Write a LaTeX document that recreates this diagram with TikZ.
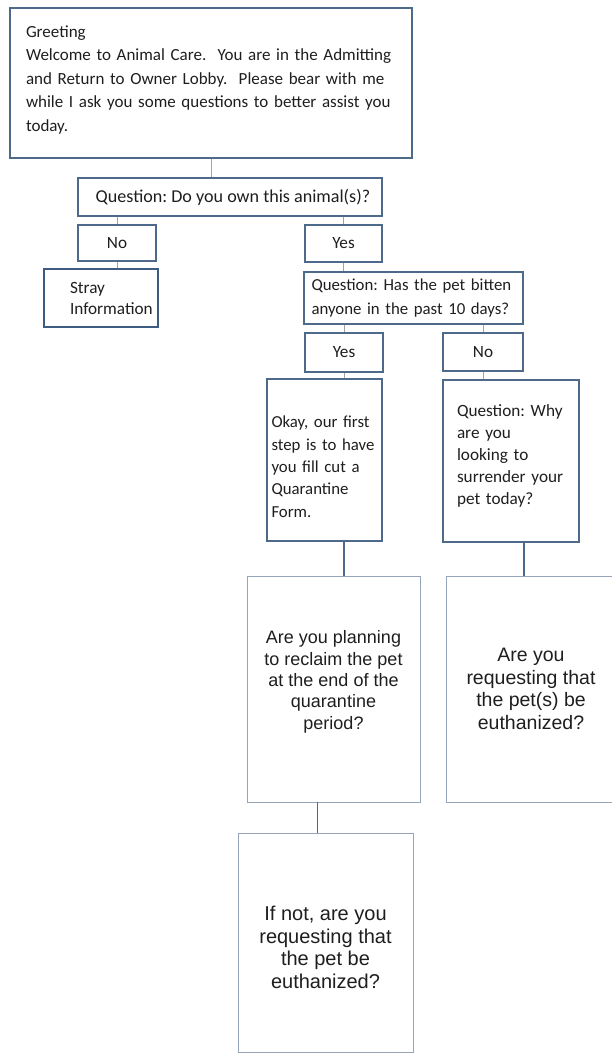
\documentclass[tikz,border=0pt]{standalone}
\usepackage{fontspec}
\setmainfont{Carlito}
\newfontfamily\arialfont{Liberation Sans}
\definecolor{boxblue}{RGB}{78,106,138}
\definecolor{darkblue}{RGB}{62,92,130}
\definecolor{paleblue}{RGB}{150,166,184}
\definecolor{linegray}{RGB}{155,163,172}
\definecolor{inkgray}{RGB}{30,30,30}
\frenchspacing

\begin{document}
\begin{tikzpicture}[x=1pt, y=-1pt,
  box/.style={draw=boxblue, line width=1.3pt, rectangle, inner sep=0pt, text=inkgray, font=\fontsize{17.2}{22.5}\selectfont},
  lbox/.style={box, align=left},
  cbox/.style={box, align=center},
  bigbox/.style={draw=paleblue, line width=0.8pt, rectangle, inner sep=0pt, align=center, text=inkgray},
  link/.style={draw=linegray, line width=0.8pt},
  blink/.style={draw=boxblue, line width=1.8pt}]
  \useasboundingbox (0,0) rectangle (611,1055);
  % upper part
  \node[lbox, minimum width=402pt, minimum height=150pt, text width=370pt, text depth=103pt,
    font=\fontsize{17}{23.5}\selectfont] (G) at (211,83)
    {Greeting\\Welcome to Animal Care.~ You are in the Admitting\\and Return to Owner Lobby.~ Please bear with me\\while I ask you some questions to better assist you\\today.};
  \node[cbox, minimum width=304pt, minimum height=38pt, font=\fontsize{18.1}{22}\selectfont] (Q1) at (230,197) {\hspace*{6pt}Question: Do you own this animal(s)?};
  \node[cbox, minimum width=78pt, minimum height=36pt] (N1) at (117,243) {No};
  \node[cbox, minimum width=77pt, minimum height=37pt] (Y1) at (343.5,243.5) {Yes};
  \node[lbox, draw=darkblue, line width=2.4pt, minimum width=114pt, minimum height=58pt, text width=62pt,
    font=\fontsize{17.2}{21}\selectfont] (S) at (101,298) {Stray\\Information};
  \node[lbox, minimum width=219pt, minimum height=52pt, text width=204pt,
    font=\fontsize{16.8}{24}\selectfont] (Q2) at (413.5,298)
    {Question: Has the pet bitten\\anyone in the past 10 days?};
  \node[cbox, minimum width=78pt, minimum height=39pt] (Y2) at (344,352.5) {Yes};
  \node[cbox, minimum width=80pt, minimum height=38pt] (N2) at (483,352) {No};
  \node[lbox, minimum width=115pt, minimum height=162pt, text width=106pt, text depth=76pt,
    font=\fontsize{16.8}{22.3}\selectfont] (K) at (324.5,460)
    {Okay, our first\\step is to have\\you fill cut a\\Quarantine\\Form.};
  \node[lbox, minimum width=136pt, minimum height=162pt, text width=108pt, text depth=100pt,
    font=\fontsize{17.2}{22}\selectfont] (W) at (511,461)
    {Question: Why\\are you\\looking to\\surrender your\\pet today?};
  % lower part
  \node[bigbox, minimum width=173pt, minimum height=226pt, text depth=18pt,
    font=\arialfont\fontsize{18}{21.3}\selectfont] (P) at (333.5,689)
    {Are you planning\\to reclaim the pet\\at the end of the\\quarantine\\period?};
  \node[bigbox, minimum width=170pt, minimum height=226pt, font=\arialfont\fontsize{19.5}{22.5}\selectfont] (E) at (531,689)
    {Are you\\requesting that\\the pet(s) be\\euthanized?};
  \node[bigbox, minimum width=175pt, minimum height=219pt, text height=92pt,
    font=\arialfont\fontsize{20}{22.5}\selectfont] (F) at (325.5,942.5)
    {If not, are you\\requesting that\\the pet be\\euthanized?};
  % connectors
  \draw[link] (G.south) -- (G.south |- Q1.north);
  \draw[link] (N1.north |- Q1.south) -- (N1.north);
  \draw[link] (Y1.north |- Q1.south) -- (Y1.north);
  \draw[link] (N1.south) -- (N1.south |- S.north);
  \draw[link] (Y1.south) -- (Y1.south |- Q2.north);
  \draw[link] (Y2.north |- Q2.south) -- (Y2.north);
  \draw[link] (N2.north |- Q2.south) -- (N2.north);
  \draw[link] (Y2.south) -- (Y2.south |- K.north);
  \draw[link] (N2.south) -- (N2.south |- W.north);
  \draw[blink] (K.south -| Y2.south) -- (Y2.south |- P.north);
  \draw[blink] ([xshift=13pt]W.south) -- ([xshift=13pt]W.south |- E.north);
  \draw[blink] ([xshift=-16pt]P.south) -- ([xshift=-16pt]P.south |- F.north);
\end{tikzpicture}
\end{document}
